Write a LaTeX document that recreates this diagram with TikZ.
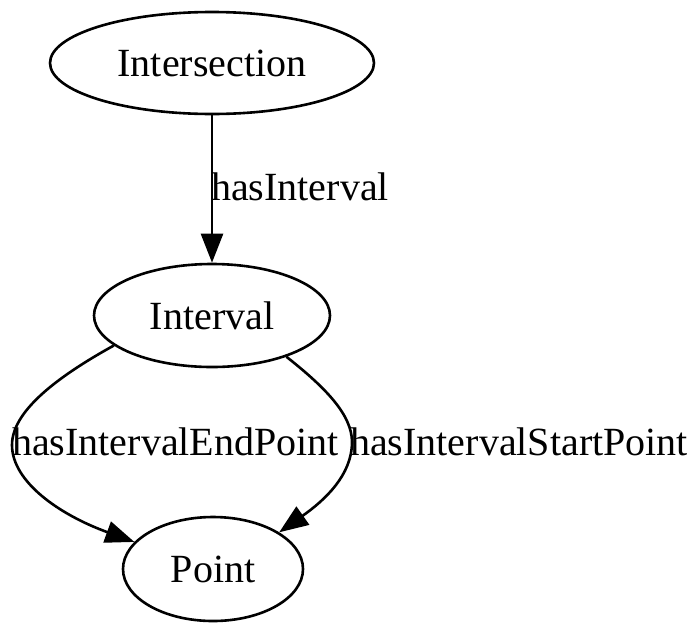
\documentclass[tikz,border=0pt]{standalone}
\usepackage{fontspec}
\setmainfont{Liberation Serif}
\usetikzlibrary{shapes.geometric,arrows.meta}
\begin{document}
\begin{tikzpicture}[x=1pt,y=-1pt,
  gnode/.style={draw,ellipse,line width=2.6pt,inner sep=0pt,font=\fontsize{40}{48}\selectfont},
  elabel/.style={inner sep=0pt,font=\fontsize{40}{48}\selectfont},
  arr/.style={line width=2.6pt,-{Triangle[length=29pt,width=22pt]}}]
\useasboundingbox (0,0) rectangle (700,632);
\node[gnode,minimum width=324pt,minimum height=102pt] (intersection) at (212,63) {Intersection};
\node[gnode,minimum width=236pt,minimum height=103pt] (interval) at (212,315.5) {Interval};
\node[gnode,minimum width=180pt,minimum height=104pt] (point) at (213,569) {Point};
\draw[arr] (intersection) -- (interval);
\node[elabel,anchor=west] (l1) at (211,187) {hasInterval};
\draw[arr] (interval.197.5) .. controls (55,378) and (12,412) .. (12,445)
  .. controls (12,482) and (60,515) .. (point.161.6);
\draw[arr] (interval.331.4) .. controls (326,388) and (352,415) .. (352,442)
  .. controls (352,475) and (325,500) .. (point.29.7);
\node[elabel,anchor=west] (l2) at (12,442) {hasIntervalEndPoint};
\node[elabel,anchor=west] (l3) at (350,442) {hasIntervalStartPoint};
\end{tikzpicture}
\end{document}
